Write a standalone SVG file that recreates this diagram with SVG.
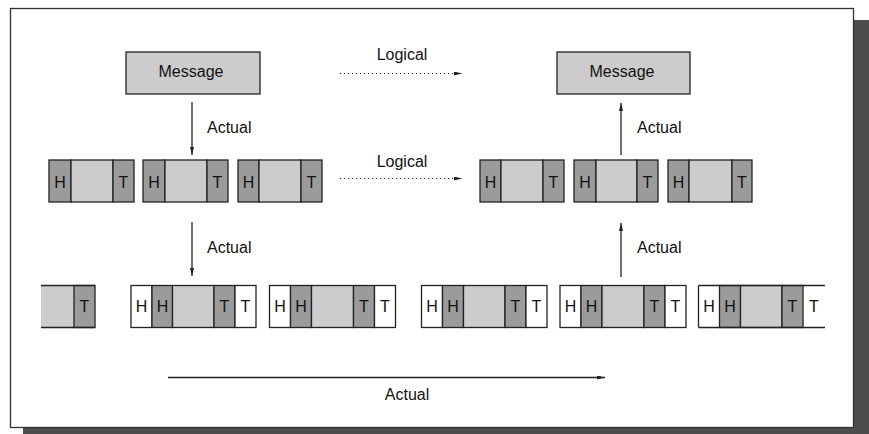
<svg xmlns="http://www.w3.org/2000/svg" width="869" height="434" viewBox="0 0 869 434">
<defs>
<style>
text{font-family:"Liberation Sans",Arial,sans-serif;font-size:16px;fill:#111}
.c{text-anchor:middle}
.b{stroke:#222;stroke-width:1.3}
.d{fill:#9b9b9b}
.l{fill:#cccccc}
.w{fill:#ffffff}
.ln{stroke:#222;stroke-width:1.3;fill:none}
.dot{stroke:#222;stroke-width:1.2;stroke-dasharray:1.2 2.8;fill:none}
</style>
<marker id="ah" viewBox="0 0 8 4" refX="8" refY="2" markerWidth="8" markerHeight="4" markerUnits="userSpaceOnUse" orient="auto">
<path d="M0,0 L8,2 L0,4 Z" fill="#222"/>
</marker>
</defs>
<rect x="23" y="20" width="846" height="420" fill="#4d4d4d"/>
<rect x="10.5" y="8.5" width="843" height="419" fill="#ffffff" stroke="#333" stroke-width="1.3"/>

<g id="msg-left"><rect class="b l" x="126" y="52" width="134" height="42"/><text class="c" x="191" y="77">Message</text></g>
<g id="msg-right"><rect class="b l" x="557" y="52" width="133" height="42"/><text class="c" x="622" y="77">Message</text></g>

<g id="r2-p1"><rect class="b d" x="49" y="160" width="22" height="42"/><rect class="b l" x="71" y="160" width="42" height="42"/><rect class="b d" x="113" y="160" width="21" height="42"/><text class="c" x="60" y="187.5">H</text><text class="c" x="123.5" y="187.5">T</text></g>
<g id="r2-p2"><rect class="b d" x="143" y="160" width="22" height="42"/><rect class="b l" x="165" y="160" width="42" height="42"/><rect class="b d" x="207" y="160" width="21" height="42"/><text class="c" x="154" y="187.5">H</text><text class="c" x="217.5" y="187.5">T</text></g>
<g id="r2-p3"><rect class="b d" x="238" y="160" width="21" height="42"/><rect class="b l" x="259" y="160" width="42" height="42"/><rect class="b d" x="301" y="160" width="21" height="42"/><text class="c" x="248.5" y="187.5">H</text><text class="c" x="311.5" y="187.5">T</text></g>
<g id="r2-p4"><rect class="b d" x="480" y="160" width="21" height="42"/><rect class="b l" x="501" y="160" width="42" height="42"/><rect class="b d" x="543" y="160" width="21" height="42"/><text class="c" x="490.5" y="187.5">H</text><text class="c" x="553.5" y="187.5">T</text></g>
<g id="r2-p5"><rect class="b d" x="574" y="160" width="22" height="42"/><rect class="b l" x="596" y="160" width="41" height="42"/><rect class="b d" x="637" y="160" width="21" height="42"/><text class="c" x="585" y="187.5">H</text><text class="c" x="647.5" y="187.5">T</text></g>
<g id="r2-p6"><rect class="b d" x="668" y="160" width="21" height="42"/><rect class="b l" x="689" y="160" width="43" height="42"/><rect class="b d" x="732" y="160" width="20" height="42"/><text class="c" x="678.5" y="187.5">H</text><text class="c" x="742" y="187.5">T</text></g>

<g id="r3-p1"><rect class="l" x="41" y="285.5" width="33" height="42"/><rect class="b d" x="74" y="285.5" width="21" height="42"/><path class="ln" d="M41,285.5 H95 M41,327.5 H95"/><text class="c" x="84.5" y="312">T</text></g>
<g id="r3-p2"><rect class="b w" x="131" y="285.5" width="21" height="42"/><rect class="b d" x="152" y="285.5" width="20.5" height="42"/><rect class="b l" x="172.5" y="285.5" width="41.5" height="42"/><rect class="b d" x="214" y="285.5" width="21" height="42"/><rect class="b w" x="235" y="285.5" width="21" height="42"/><text class="c" x="141.5" y="312">H</text><text class="c" x="162.5" y="312">H</text><text class="c" x="224.5" y="312">T</text><text class="c" x="245.5" y="312">T</text></g>
<g id="r3-p3"><rect class="b w" x="269.5" y="285.5" width="21" height="42"/><rect class="b d" x="290.5" y="285.5" width="21" height="42"/><rect class="b l" x="311.5" y="285.5" width="42" height="42"/><rect class="b d" x="353.5" y="285.5" width="21" height="42"/><rect class="b w" x="374.5" y="285.5" width="21" height="42"/><text class="c" x="280" y="312">H</text><text class="c" x="301" y="312">H</text><text class="c" x="364" y="312">T</text><text class="c" x="385" y="312">T</text></g>
<g id="r3-p4"><rect class="b w" x="421.5" y="285.5" width="21" height="42"/><rect class="b d" x="442.5" y="285.5" width="21" height="42"/><rect class="b l" x="463.5" y="285.5" width="41.5" height="42"/><rect class="b d" x="505" y="285.5" width="21" height="42"/><rect class="b w" x="526" y="285.5" width="21" height="42"/><text class="c" x="432" y="312">H</text><text class="c" x="453" y="312">H</text><text class="c" x="515.5" y="312">T</text><text class="c" x="536.5" y="312">T</text></g>
<g id="r3-p5"><rect class="b w" x="560" y="285.5" width="21" height="42"/><rect class="b d" x="581" y="285.5" width="21" height="42"/><rect class="b l" x="602" y="285.5" width="42" height="42"/><rect class="b d" x="644" y="285.5" width="21" height="42"/><rect class="b w" x="665" y="285.5" width="21" height="42"/><text class="c" x="570.5" y="312">H</text><text class="c" x="591.5" y="312">H</text><text class="c" x="654.5" y="312">T</text><text class="c" x="675.5" y="312">T</text></g>
<g id="r3-p6"><rect class="w" x="698.5" y="285.5" width="126.5" height="42"/><rect class="b d" x="719.5" y="285.5" width="21" height="42"/><rect class="b l" x="740.5" y="285.5" width="41.5" height="42"/><rect class="b d" x="782" y="285.5" width="21" height="42"/><path class="ln" d="M698.5,285.5 H825 M698.5,327.5 H825 M698.5,285.5 V327.5"/><text class="c" x="709" y="312">H</text><text class="c" x="730" y="312">H</text><text class="c" x="792.5" y="312">T</text><text class="c" x="814" y="312">T</text></g>

<g id="connectors">
<path class="ln" d="M192,102 V155" marker-end="url(#ah)"/>
<path class="ln" d="M192,222 V276" marker-end="url(#ah)"/>
<path class="ln" d="M621,155 V103" marker-end="url(#ah)"/>
<path class="ln" d="M621,277 V223" marker-end="url(#ah)"/>
<path class="dot" d="M340,73.5 H462" marker-end="url(#ah)"/>
<path class="dot" d="M340,178.5 H462" marker-end="url(#ah)"/>
<path class="ln" d="M168,377.5 H605" marker-end="url(#ah)"/>
<text x="207" y="133">Actual</text>
<text x="207" y="253">Actual</text>
<text x="637" y="133">Actual</text>
<text x="637" y="253">Actual</text>
<text class="c" x="402" y="60">Logical</text>
<text class="c" x="402" y="167">Logical</text>
<text class="c" x="407" y="400">Actual</text>
</g>
</svg>
